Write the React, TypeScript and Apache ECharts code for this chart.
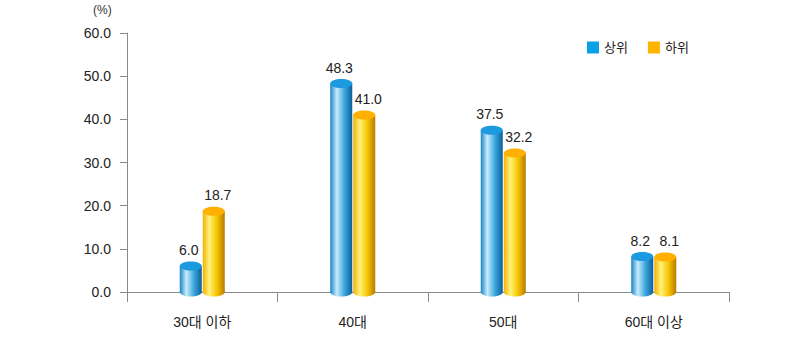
import React, { useEffect, useRef } from "react";
import * as echarts from "echarts";

const categories = ["30대 이하", "40대", "50대", "60대 이상"];
const upperValues = [6.0, 48.3, 37.5, 8.2];
const lowerValues = [18.7, 41.0, 32.2, 8.1];
const seriesNames = ["상위", "하위"];

const FONT = "'Liberation Sans', 'Noto Sans CJK KR', sans-serif";

function makeRender(offset: number, labelShift: number, grad: string[], topColor: string) {
  return (params: any, api: any) => {
    const ci = api.value(0);
    const v = api.value(1);
    const top = api.coord([ci, v]);
    const base = api.coord([ci, 0]);
    const w = 22;
    const cx = top[0] + offset;
    const x = cx - w / 2;
    const ry = 4.5;
    const fill = new echarts.graphic.LinearGradient(0, 0, 1, 0, [
      { offset: 0, color: grad[0] },
      { offset: 0.3, color: grad[1] },
      { offset: 0.65, color: grad[2] },
      { offset: 1, color: grad[3] },
    ]);
    return {
      type: "group",
      children: [
        { type: "ellipse", shape: { cx, cy: base[1], rx: w / 2, ry }, style: { fill } },
        { type: "rect", shape: { x, y: top[1], width: w, height: base[1] - top[1] }, style: { fill } },
        { type: "ellipse", shape: { cx, cy: top[1], rx: w / 2, ry }, style: { fill: topColor } },
        {
          type: "text",
          style: {
            text: v.toFixed(1),
            x: cx + labelShift,
            y: top[1] - 9,
            align: "center",
            verticalAlign: "bottom",
            fill: "#222",
            font: `14px ${FONT}`,
          },
        },
      ],
    };
  };
}

export default function App() {
  const ref = useRef<HTMLDivElement>(null);
  useEffect(() => {
    const chart = echarts.init(ref.current!, null, { renderer: "svg" });
    chart.setOption({
      animation: false,
      backgroundColor: "#fff",
      textStyle: { fontFamily: FONT },
      grid: { left: 127, right: 81, top: 33, bottom: 58, containLabel: false },
      legend: {
        left: 582,
        top: 36,
        icon: "rect",
        itemWidth: 12,
        itemHeight: 12,
        itemGap: 20,
        textStyle: { fontSize: 13, color: "#222", fontFamily: FONT },
        data: seriesNames,
      },
      graphic: [
        {
          type: "text",
          left: 93,
          top: 4,
          style: { text: "(%)", fill: "#333", font: `12px ${FONT}` },
        },
      ],
      xAxis: {
        type: "category",
        data: categories,
        boundaryGap: true,
        axisLine: { lineStyle: { color: "#8a8a8a", width: 1 } },
        axisTick: { show: true, length: 10, alignWithLabel: false, lineStyle: { color: "#8a8a8a" } },
        axisLabel: { color: "#222", fontSize: 14, margin: 23, fontFamily: FONT },
      },
      yAxis: {
        type: "value",
        min: 0,
        max: 60,
        interval: 10,
        axisLine: { show: true, lineStyle: { color: "#8a8a8a", width: 1 } },
        axisTick: { show: true, length: 7, lineStyle: { color: "#8a8a8a" } },
        splitLine: { show: false },
        axisLabel: {
          color: "#222",
          fontSize: 14,
          margin: 16,
          fontFamily: FONT,
          formatter: (v: number) => v.toFixed(1),
        },
      },
      series: [
        {
          name: seriesNames[0],
          type: "custom",
          itemStyle: { color: "#0aa0e6" },
          encode: { x: 0, y: 1 },
          data: upperValues.map((v, i) => [i, v]),
          renderItem: makeRender(-11.5, -2, ["#1684c8", "#c8ecfb", "#3aa6dc", "#0a5f9c"], "#1c9ae0"),
        },
        {
          name: seriesNames[1],
          type: "custom",
          itemStyle: { color: "#ffb400" },
          encode: { x: 0, y: 1 },
          data: lowerValues.map((v, i) => [i, v]),
          renderItem: makeRender(11.5, 4, ["#f2b000", "#fff27a", "#f6c400", "#b87a00"], "#ffb000"),
        },
      ],
    });
    return () => chart.dispose();
  }, []);
  return (
    <div
      ref={ref}
      style={{ position: "fixed", left: 0, top: 0, width: 810, height: 350 }}
    />
  );
}
